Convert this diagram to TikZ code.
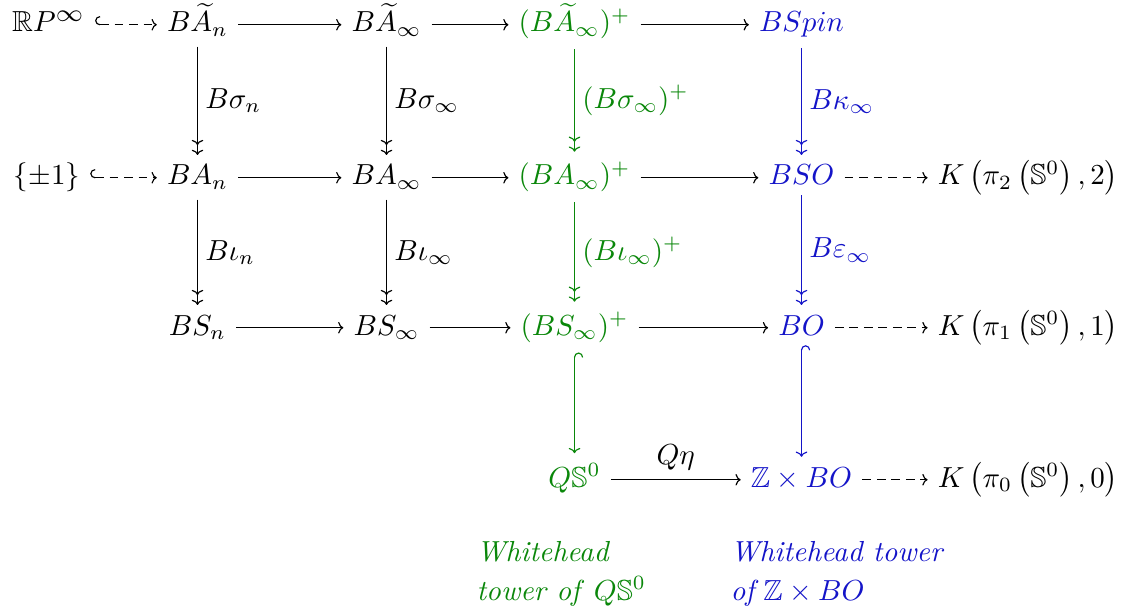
\documentclass[tikz,border=0pt]{standalone}
\usepackage{amsmath,amssymb}
\usepackage{graphicx}
\usetikzlibrary{arrows.meta}
\definecolor{tgreen}{RGB}{10,135,10}
\definecolor{tblue}{RGB}{20,20,200}
\begin{document}
\begin{tikzpicture}[x=0.3448pt,y=-0.3448pt,
  cell/.style={anchor=base,inner sep=3.33pt},
  arr/.style={-{Computer Modern Rightarrow[length=1.8pt,width=4pt]}},
  epi/.style={-{Computer Modern Rightarrow[length=1.8pt,width=4pt,sep=1.6pt]Computer Modern Rightarrow[length=1.8pt,width=4pt]}},
  incl/.style={{Hooks[right,length=1.7pt,width=6pt]}-{Computer Modern Rightarrow[length=1.8pt,width=4pt]}},
  dasharr/.style={arr,dash pattern=on 3pt off 2pt},
  dincl/.style={incl,dash pattern=on 3pt off 2pt},
  lab/.style={right,inner sep=2.5pt},
  gr/.style={text=tgreen},
  bl/.style={text=tblue}]
\useasboundingbox (0,0) rectangle (1121,612);
% row 1
\node[cell] (r1) at (48.5,32) {$\mathbb{R}P^{\scalebox{1.2}{$\scriptstyle\infty$}}$};
\node[cell] (a1) at (197.5,32) {$B\widetilde{A}_n$};
\node[cell] (a2) at (386.5,32) {$B\widetilde{A}_\infty$};
\node[cell,gr] (a3) at (574.5,32) {$(B\widetilde{A}_\infty)^+$};
\node[cell,bl] (a4) at (801.5,32) {$BSpin$};
% row 2
\node[cell] (b0) at (47,185) {$\{\pm1\}$};
\node[cell] (b1) at (197.5,185) {$BA_n$};
\node[cell] (b2) at (386.5,185) {$BA_\infty$};
\node[cell,gr] (b3) at (574.5,185) {$(BA_\infty)^+$};
\node[cell,bl] (b4) at (801.5,185) {$BSO$};
\node[cell] (b5) at (1028,185) {$K\left(\pi_2\left(\mathbb{S}^0\right),2\right)$};
% row 3
\node[cell] (c1) at (197.5,335) {$BS_n$};
\node[cell] (c2) at (386.5,335) {$BS_\infty$};
\node[cell,gr] (c3) at (574.5,335) {$(BS_\infty)^+$};
\node[cell,bl] (c4) at (801.5,335) {$BO$};
\node[cell] (c5) at (1028,335) {$K\left(\pi_1\left(\mathbb{S}^0\right),1\right)$};
% row 4
\node[cell,gr] (d3) at (574.5,487) {$Q\mathbb{S}^0$};
\node[cell,bl] (d4) at (801.5,487) {$\mathbb{Z}\times BO$};
\node[cell] (d5) at (1028,487) {$K\left(\pi_0\left(\mathbb{S}^0\right),0\right)$};
% captions
\node[anchor=base west,align=left,inner sep=0pt,gr] (t1) at (476,600)
  {\textit{Whitehead}\\[1.2pt]\textit{tower of} $Q\mathbb{S}^0$};
\node[anchor=base west,align=left,inner sep=0pt,bl] (t2) at (730,600)
  {\textit{Whitehead tower}\\[1.2pt]\textit{of}\,$\mathbb{Z}\times BO$};
% horizontal arrows
\draw[dincl] ([yshift=2.5pt]r1.base east) -- ([yshift=2.5pt]a1.base west);
\draw[arr] ([yshift=2.5pt]a1.base east) -- ([yshift=2.5pt]a2.base west);
\draw[arr] ([yshift=2.5pt]a2.base east) -- ([yshift=2.5pt]a3.base west);
\draw[arr] ([yshift=2.5pt]a3.base east) -- ([yshift=2.5pt]a4.base west);
\draw[dincl] ([yshift=2.5pt]b0.base east) -- ([yshift=2.5pt]b1.base west);
\draw[arr] ([yshift=2.5pt]b1.base east) -- ([yshift=2.5pt]b2.base west);
\draw[arr] ([yshift=2.5pt]b2.base east) -- ([yshift=2.5pt]b3.base west);
\draw[arr] ([yshift=2.5pt]b3.base east) -- ([yshift=2.5pt]b4.base west);
\draw[dasharr] ([yshift=2.5pt]b4.base east) -- ([yshift=2.5pt]b5.base west);
\draw[arr] ([yshift=2.5pt]c1.base east) -- ([yshift=2.5pt]c2.base west);
\draw[arr] ([yshift=2.5pt]c2.base east) -- ([yshift=2.5pt]c3.base west);
\draw[arr] ([yshift=2.5pt]c3.base east) -- ([yshift=2.5pt]c4.base west);
\draw[dasharr] ([yshift=2.5pt]c4.base east) -- ([yshift=2.5pt]c5.base west);
\draw[arr] ([yshift=2.5pt]d3.base east) -- node[above,inner sep=3pt] {$Q\eta$} ([yshift=2.5pt]d4.base west);
\draw[dasharr] ([yshift=2.5pt]d4.base east) -- ([yshift=2.5pt]d5.base west);
% vertical arrows
\draw[epi] (a1) -- node[lab] {$B\sigma_n$} (b1);
\draw[epi] (a2) -- node[lab] {$B\sigma_\infty$} (b2);
\draw[epi,tgreen] (a3) -- node[lab] {$(B\sigma_\infty)^+$} (b3);
\draw[epi,tblue] (a4) -- node[lab] {$B\kappa_\infty$} (b4);
\draw[epi] (b1) -- node[lab] {$B\iota_n$} (c1);
\draw[epi] (b2) -- node[lab] {$B\iota_\infty$} (c2);
\draw[epi,tgreen] (b3) -- node[lab] {$(B\iota_\infty)^+$} (c3);
\draw[epi,tblue] (b4) -- node[lab] {$B\varepsilon_\infty$} (c4);
\draw[incl,tgreen] (c3) -- (d3);
\draw[incl,tblue] (c4) -- (d4);
\end{tikzpicture}
\end{document}
